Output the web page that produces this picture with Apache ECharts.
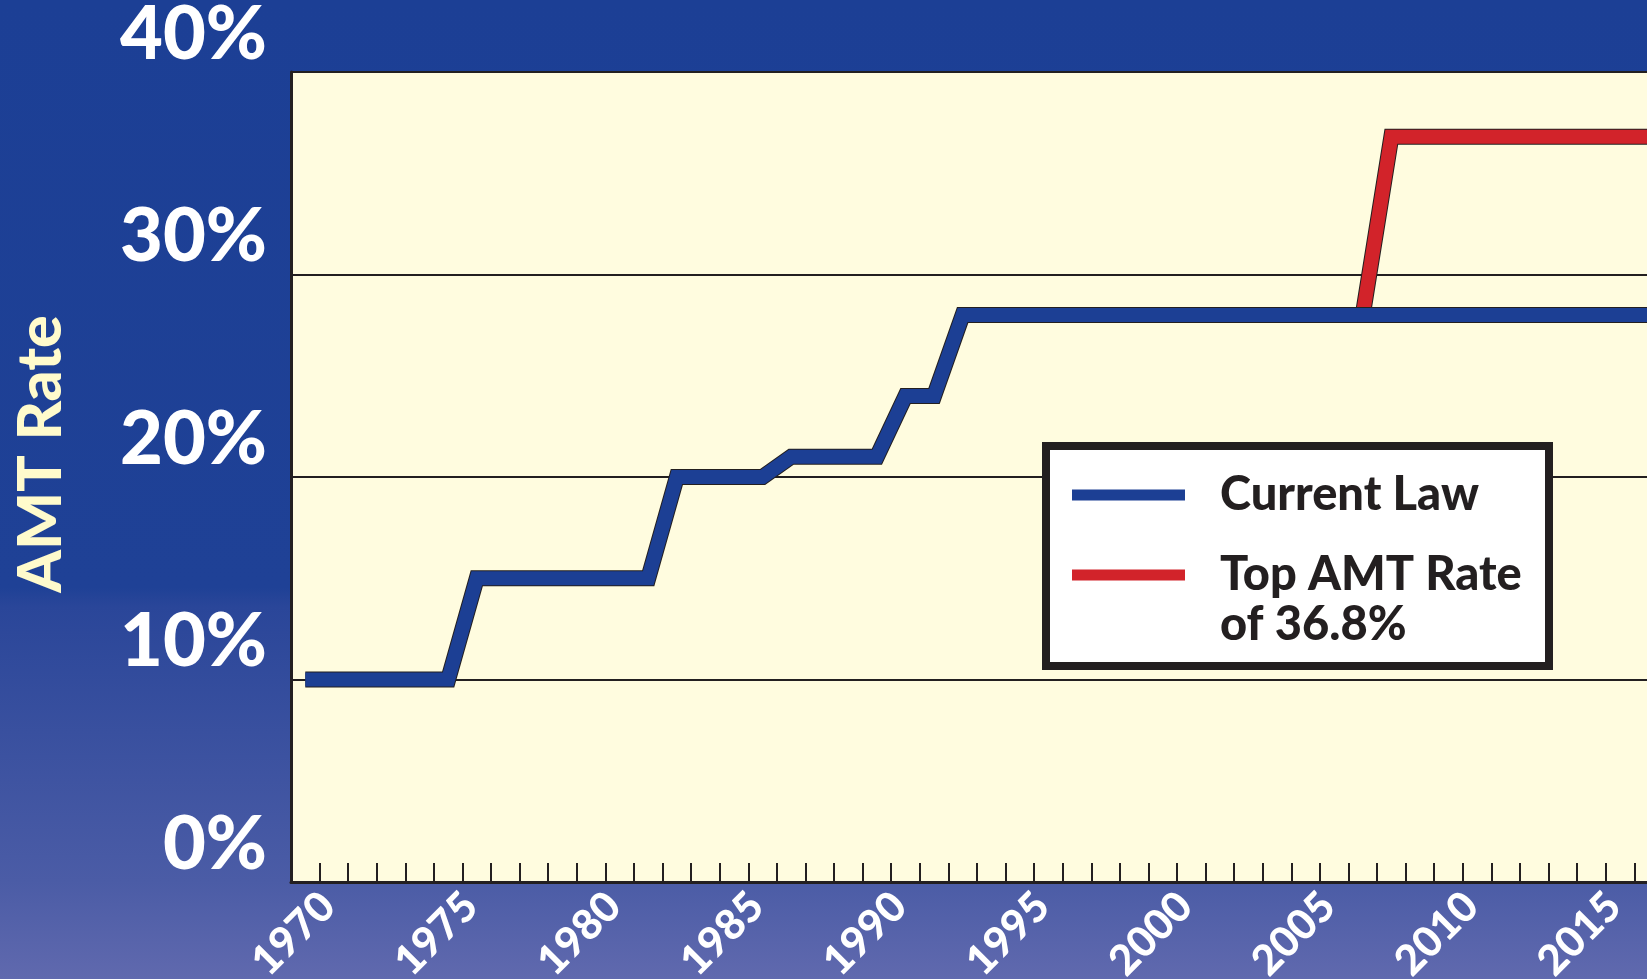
<!DOCTYPE html>
<html>
<head>
<meta charset="utf-8">
<title>AMT Rate</title>
<script src="https://cdn.jsdelivr.net/npm/echarts@6/dist/echarts.min.js"></script>
<style>
  html, body { margin: 0; padding: 0; }
  #chart { width: 1647px; height: 979px; }
</style>
</head>
<body>
<div id="chart"></div>
<script>
// current law: AMT rate by year (steps drawn between mid-years)
const currentLawYears = [1969.5, 1974.5, 1975.5, 1981.5, 1982.5, 1985.5, 1986.5, 1989.5, 1990.5, 1991.5, 1992.5, 2017];
const currentLawRates = [10, 10, 15, 15, 20, 20, 21, 21, 24, 24, 28, 28];
// top AMT rate of 36.8%
const topRateYears = [2006.5, 2007.5, 2017];
const topRateRates = [28, 36.8, 36.8];
// axis ticks
const yTicks = [0, 10, 20, 30, 40];
const labelEvery = 5;

const BLUE = '#1c3f94';
const RED = '#d2232a';
const INK = '#231f20';
const FONT = 'Lato';

function pairs(xs, ys) {
  return xs.map((x, i) => [x, ys[i]]);
}

// thick line, drawn twice: dark edge underneath, colour on top
function lineSeries(name, data, color, width, z) {
  return {
    name: name,
    type: 'line',
    data: data,
    z: z,
    showSymbol: false,
    silent: true,
    animation: false,
    itemStyle: { color: color },
    lineStyle: { color: color, width: width, join: 'miter', cap: 'butt' }
  };
}

const myChart = echarts.init(document.getElementById('chart'));

const option = {
  backgroundColor: new echarts.graphic.LinearGradient(0, 0, 0, 1, [
    { offset: 0, color: '#1c3f95' },
    { offset: 0.6, color: '#1f4196' },
    { offset: 0.62, color: '#2a4699' },
    { offset: 0.9, color: '#4b5ca6' },
    { offset: 1, color: '#6069ae' }
  ]),
  grid: {
    left: 291, top: 72, right: -5, bottom: 97,
    outerBoundsMode: 'none',
    show: true, backgroundColor: '#fffcdf', borderWidth: 0
  },
  legend: {
    data: [
      { name: 'Current Law', itemStyle: { color: BLUE } },
      { name: 'Top AMT Rate of 36.8%', itemStyle: { color: RED } }
    ],
    formatter: function (name) {
      return name === 'Current Law' ? name : '\nTop AMT Rate\nof 36.8%';
    },
    orient: 'vertical',
    left: 1046, top: 446,
    padding: [24, 27, 16, 26],
    itemGap: -20,
    itemWidth: 113, itemHeight: 11,
    icon: 'rect',
    selectedMode: false,
    backgroundColor: '#ffffff',
    borderColor: INK, borderWidth: 8,
    textStyle: {
      color: INK, fontFamily: FONT, fontWeight: 900,
      fontSize: 47, lineHeight: 50, width: 302, padding: [0, 0, 0, 30]
    }
  },
  xAxis: {
    type: 'value',
    min: 1969, max: 2016.62, interval: 1,
    axisLine: { lineStyle: { color: INK, width: 3 } },
    axisTick: { inside: true, length: 19, lineStyle: { color: INK, width: 2 } },
    splitLine: { show: false },
    axisLabel: {
      rotate: 45, margin: 26, padding: [0, -12, 0, 0],
      color: '#ffffff', fontFamily: FONT, fontWeight: 900, fontSize: 42,
      formatter: function (v) { return v % labelEvery === 0 ? String(v) : ''; }
    }
  },
  yAxis: {
    type: 'value',
    min: yTicks[0], max: yTicks[yTicks.length - 1], interval: yTicks[1] - yTicks[0],
    name: 'AMT Rate',
    nameLocation: 'middle', nameRotate: 90, nameGap: 250,
    nameTextStyle: {
      color: '#fffbcc', fontFamily: FONT, fontWeight: 900, fontSize: 61,
      verticalAlign: 'middle', padding: [0, 0, 0, 46]
    },
    axisLine: { show: true, lineStyle: { color: INK, width: 3 } },
    axisTick: { show: false },
    splitLine: { lineStyle: { color: INK, width: 2 } },
    axisLabel: {
      margin: 24,
      color: '#ffffff', fontFamily: FONT, fontWeight: 900,
      fontSize: 74, lineHeight: 74, verticalAlign: 'bottom',
      textShadowColor: INK, textShadowOffsetX: 5, textShadowOffsetY: 5, textShadowBlur: 0,
      formatter: '{value}%'
    }
  },
  series: [
    lineSeries('Top AMT Rate edge', pairs(topRateYears, topRateRates), INK, 16, 2),
    lineSeries('Top AMT Rate of 36.8%', pairs(topRateYears, topRateRates), RED, 14, 3),
    lineSeries('Current Law edge', pairs(currentLawYears, currentLawRates), INK, 16, 4),
    lineSeries('Current Law', pairs(currentLawYears, currentLawRates), BLUE, 14, 5)
  ]
};

myChart.setOption(option);
</script>
</body>
</html>
